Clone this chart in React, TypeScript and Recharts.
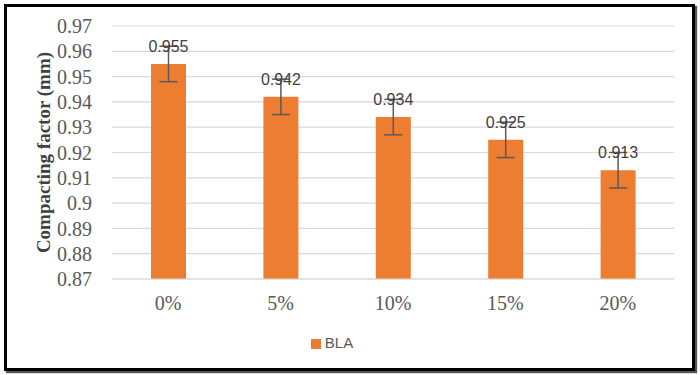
import React from "react";
import {
  Bar,
  BarChart,
  CartesianGrid,
  ErrorBar,
  LabelList,
  Legend,
  XAxis,
  YAxis,
} from "recharts";

const categories = ["0%", "5%", "10%", "15%", "20%"];
const blaValues = [0.955, 0.942, 0.934, 0.925, 0.913];
const blaErrors = [0.007, 0.007, 0.007, 0.007, 0.007];
const yTicks = [0.87, 0.88, 0.89, 0.9, 0.91, 0.92, 0.93, 0.94, 0.95, 0.96, 0.97];
const seriesName = "BLA";
const yTitle = "Compacting factor (mm)";

const data = categories.map((c, i) => ({
  name: c,
  value: blaValues[i],
  err: blaErrors[i],
}));

const fmtTick = (v: number) => String(Number(v.toFixed(2)));

function YTitle(props: any) {
  const vb = props.viewBox || {};
  const cy = (vb.y ?? 0) + (vb.height ?? 0) / 2;
  const cx = 43;
  return (
    <text
      x={cx}
      y={cy}
      transform={`rotate(-90 ${cx} ${cy})`}
      textAnchor="middle"
      dominantBaseline="central"
      fontFamily="'Liberation Serif', serif"
      fontWeight="bold"
      fontSize={19}
      fill="#404040"
    >
      {yTitle}
    </text>
  );
}

export default function App() {
  return (
    <div style={{ position: "absolute", left: 0, top: 0, width: 700, height: 375, background: "#fff" }}>
      <div
        style={{
          position: "absolute",
          left: 4,
          top: 4,
          width: 691,
          height: 367,
          boxSizing: "border-box",
          border: "3px solid #000",
          boxShadow: "2px 2px 1px #555",
        }}
      />
      <div style={{ position: "absolute", left: 0, top: 0 }}>
        <BarChart
          width={700}
          height={375}
          data={data}
          margin={{ top: 26, right: 26, left: 0, bottom: 38 }}
        >
          <CartesianGrid vertical={false} stroke="#d9d9d9" strokeWidth={1.2} />
          <XAxis
            dataKey="name"
            height={40}
            tickLine={false}
            axisLine={{ stroke: "#d9d9d9" }}
            tickSize={0}
            tickMargin={17}
            interval={0}
            tick={{ fontSize: 20, fill: "#595959", fontFamily: "'Liberation Serif', serif" }}
          />
          <YAxis
            width={112}
            domain={[0.87, 0.97]}
            ticks={yTicks}
            interval={0}
            allowDataOverflow
            tickFormatter={fmtTick}
            tickLine={false}
            axisLine={false}
            tickSize={0}
            tickMargin={20}
            tick={{ fontSize: 20, fill: "#595959", fontFamily: "'Liberation Serif', serif" }}
            label={<YTitle />}
          />
          <Legend
            verticalAlign="bottom"
            align="center"
            iconType="square"
            iconSize={10}
            wrapperStyle={{ bottom: 23 }}
            formatter={(v) => (
              <span style={{ color: "#595959", fontSize: 15, fontFamily: "'Liberation Sans', sans-serif" }}>{v}</span>
            )}
          />
          <Bar
            dataKey="value"
            name={seriesName}
            fill="#ed7d31"
            barSize={35}
            isAnimationActive={false}
          >
            <LabelList
              dataKey="value"
              position="top"
              offset={12}
              fill="#404040"
              fontSize={16}
              fontFamily="'Liberation Sans', sans-serif"
            />
            <ErrorBar dataKey="err" width={9} stroke="#595959" strokeWidth={1.5} direction="y" />
          </Bar>
        </BarChart>
      </div>
    </div>
  );
}
